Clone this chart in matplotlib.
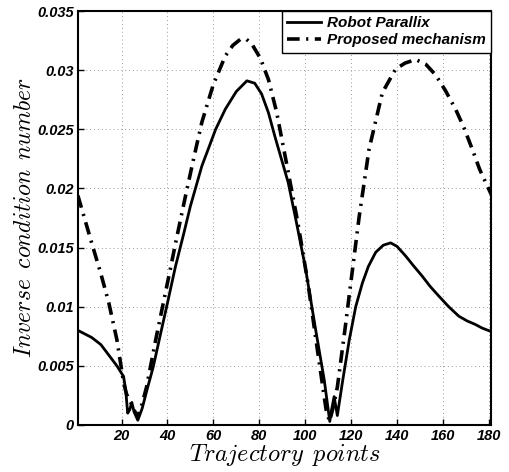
import matplotlib
matplotlib.use("Agg")
import matplotlib.pyplot as plt
from matplotlib.ticker import FuncFormatter

# values
x_parallix = [1, 4, 7, 11, 14.5, 18, 20.9, 21.8, 22.7, 23.6, 24.5, 25.5, 27.1, 29, 31,
              33.8, 37, 40, 43.5, 47, 50, 55, 58.3, 61, 65.2, 70, 74.6, 78, 81, 84,
              86.8, 92.6, 96, 100, 104.6, 108.3, 110.7, 111.6, 112.6, 114, 116.2,
              119.2, 122, 124.9, 127.5, 130.7, 134, 137.2, 140, 143.7, 147, 150.9,
              154.5, 158.2, 162.5, 166.9, 170.5, 174.1, 177, 181]
y_parallix = [0.0080, 0.0077, 0.0074, 0.0068, 0.0059, 0.0050, 0.0041, 0.0030, 0.0010,
              0.0013, 0.0019, 0.0011, 0.0004, 0.0014, 0.0029, 0.0049, 0.0077, 0.0103,
              0.0134, 0.0161, 0.0185, 0.0219, 0.0236, 0.0250, 0.0267, 0.0282, 0.0291,
              0.0289, 0.0280, 0.0264, 0.0244, 0.0205, 0.0173, 0.0134, 0.0080, 0.0038,
              0.0003, 0.0014, 0.0024, 0.0008, 0.0036, 0.0072, 0.0100, 0.0120, 0.0134,
              0.0146, 0.0152, 0.0154, 0.0151, 0.0143, 0.0135, 0.0126, 0.0117, 0.0109,
              0.0100, 0.0092, 0.0088, 0.0085, 0.0082, 0.0079]

x_proposed = [1, 4, 7, 11, 14.5, 18, 20.9, 22.2, 23.6, 25.3, 27.2, 29, 30.9, 35, 40,
              44, 47.8, 51.5, 55, 60, 65.2, 68.5, 71.7, 74.5, 76.8, 80.5, 84, 87.5, 91,
              96.8, 101.2, 105.5, 109.1, 110.6, 112.3, 114, 117.6, 119.2, 123.5, 127.8,
              133.6, 139.4, 143.5, 148.1, 152.5, 156.8, 161, 165.5, 169, 172.8, 176,
              181]
y_proposed = [0.0194, 0.0174, 0.0154, 0.0128, 0.0103, 0.0072, 0.0036, 0.0026, 0.0021,
              0.0013, 0.0007, 0.0018, 0.0032, 0.0073, 0.0120, 0.0158, 0.0193, 0.0226,
              0.0256, 0.0288, 0.0312, 0.0321, 0.0326, 0.0326, 0.0322, 0.0310, 0.0292,
              0.0265, 0.0230, 0.0171, 0.0120, 0.0061, 0.0013, 0.0003, 0.0016, 0.0032,
              0.0085, 0.0110, 0.0176, 0.0233, 0.0281, 0.0301, 0.0306, 0.0309, 0.0305,
              0.0296, 0.0283, 0.0267, 0.0252, 0.0233, 0.0216, 0.0195]

x_ticks = [20, 40, 60, 80, 100, 120, 140, 160, 180]
y_ticks = [0, 0.005, 0.01, 0.015, 0.02, 0.025, 0.03, 0.035]

plt.rcParams["mathtext.fontset"] = "cm"
plt.rcParams["font.family"] = ["Liberation Sans", "DejaVu Sans"]

fig = plt.figure(figsize=(5.09, 4.72), dpi=100)
ax = fig.add_axes([0.153, 0.0996, 0.812, 0.877])

ax.plot(x_parallix, y_parallix, color="black", linewidth=2.0, label="Robot Parallix")
ax.plot(x_proposed, y_proposed, color="black", linewidth=2.6, linestyle=(0, (3.5, 1.8, 0.6, 1.8)),
        label="Proposed mechanism")

ax.set_xlim(1, 181)
ax.set_ylim(0, 0.035)
ax.set_xticks(x_ticks)
ax.set_yticks(y_ticks)
ax.yaxis.set_major_formatter(FuncFormatter(lambda v, p: "%g" % v))
ax.grid(True, color="#999999", linestyle=(0, (1, 3)), linewidth=0.7)
ax.tick_params(direction="in", length=4, width=1, pad=3, labelsize=10.5)
for lbl in ax.get_xticklabels() + ax.get_yticklabels():
    lbl.set_fontweight("bold")
    lbl.set_fontstyle("italic")
for sp in ax.spines.values():
    sp.set_linewidth(1.5)

ax.set_xlabel(r"$Trajectory\ \,points$", fontsize=17.5, labelpad=-1)
ax.set_ylabel(r"$Inverse\ \,condition\ \,number$", fontsize=17, labelpad=1)

leg = ax.legend(loc="upper right", prop={"weight": "bold", "style": "italic", "size": 11},
                fancybox=False, framealpha=1, edgecolor="black", borderaxespad=0,
                handlelength=2.2, borderpad=0.35, labelspacing=0.2, handletextpad=0.4)
leg.get_frame().set_linewidth(1.0)

plt.savefig("out.png", dpi=100)
